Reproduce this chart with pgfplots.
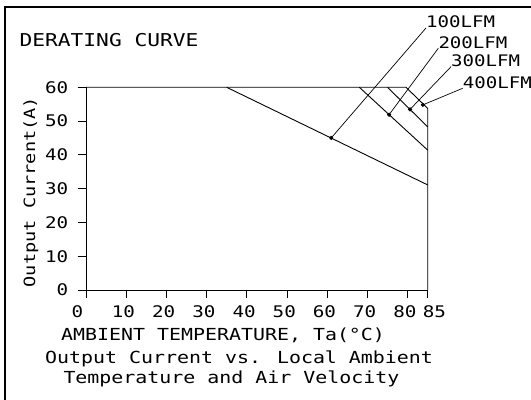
\documentclass[border=0pt]{standalone}
\usepackage{pgfplots}
\pgfplotsset{compat=1.18}
\usepackage{fontspec}
\setmainfont{DejaVu Sans Mono}[FakeStretch=1.2]

% derating curve, pixel layout of the reference kept in bp
\newcommand{\txt}[1]{\fontsize{#1bp}{#1bp}\selectfont}

\begin{document}
\begin{tikzpicture}
\useasboundingbox (0,0) rectangle (531bp,400bp);
\draw[line width=2bp] (5bp,-2bp) -- (5bp,393bp) -- (533bp,393bp);

\begin{axis}[
  at={(86bp,110bp)}, anchor=south west,
  scale only axis, width=341.7bp, height=202.7bp,
  xmin=0, xmax=85, ymin=0, ymax=60,
  axis lines*=left,
  axis line style={line width=0.9bp},
  clip=false,
  xtick={0,10,...,80}, ytick={0,10,...,60},
  extra x ticks={85},
  extra x tick style={xticklabel style={xshift=9.5bp}},
  tick align=outside,
  major tick length=8.5bp,
  tick style={black, line width=0.9bp},
  /pgf/number format/assume math mode=true,
  ticklabel style={font=\txt{16}, inner sep=0pt},
  xticklabel style={anchor=base west, xshift=-14.5bp, yshift=-19bp},
  yticklabel style={anchor=east, xshift=-9bp},
  xlabel={AMBIENT TEMPERATURE, Ta(°C)},
  xlabel style={font=\txt{16.6}, inner sep=0pt, anchor=base west,
    at={(axis description cs:-0.0732,-0.2467)}},
  ylabel={Output Current(A)},
  ylabel style={font=\txt{15.5}, inner sep=0pt, anchor=base,
    at={(axis description cs:-0.149,0.483)}},
  every axis plot/.append style={black, line width=0.9bp},
]

% curves for 100, 200, 300, 400 LFM
\addplot[mark=none] coordinates {(35,60) (85,31.1)};
\addplot[mark=none] coordinates {(68,60) (85,41.4)};
\addplot[mark=none] coordinates {(75,60) (85,48.3)};
\addplot[mark=none] coordinates {(0,60) (79.6,60) (85,53.75) (85,0)};

% leader lines to the labels
\addplot[mark=none, line width=0.7bp] coordinates {(61,45) (84.58,77.56)};
\addplot[mark=none, line width=0.7bp] coordinates {(75.4,51.9) (87.64,71.55)};
\addplot[mark=none, line width=0.7bp] coordinates {(80.6,53.45) (90.80,66.10)};
\addplot[mark=none, line width=0.7bp] coordinates {(83.8,54.8) (93.71,59.71)};

% dots
\addplot[only marks, mark=*, mark size=1.6bp] coordinates {
  (61,45) (75.4,51.9) (80.6,53.45) (83.8,54.8)
};

\end{axis}

\node[anchor=base west, inner sep=0pt, font=\txt{17.7}] at (19.3bp,353.3bp) {DERATING CURVE};
\node[anchor=base west, inner sep=0pt, font=\txt{15.9}] at (426bp,372bp) {100LFM};
\node[anchor=base west, inner sep=0pt, font=\txt{15.9}] at (438.3bp,351.7bp) {200LFM};
\node[anchor=base west, inner sep=0pt, font=\txt{15.9}] at (451bp,333.3bp) {300LFM};
\node[anchor=base west, inner sep=0pt, font=\txt{15.9}] at (462.7bp,311.7bp) {400LFM};
\node[anchor=base west, inner sep=0pt, font=\txt{16.6}] at (45bp,36.7bp) {Output Current vs. Local Ambient};
\node[anchor=base west, inner sep=0pt, font=\txt{16.6}] at (63.3bp,16.7bp) {Temperature and Air Velocity};
\end{tikzpicture}
\end{document}
